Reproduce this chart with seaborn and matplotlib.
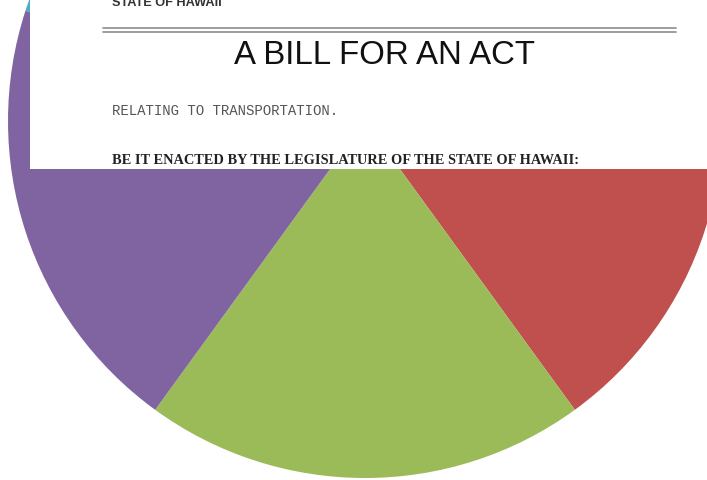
import matplotlib.pyplot as plt
import matplotlib.patches as mpatches
import seaborn as sns

sns.set_theme(style="white")

# pie slices, clockwise from 12 o'clock
slices = ["Blue", "Red", "Green", "Purple", "Aqua"]
shares = [20, 20, 20, 20, 20]
colors = ["#4F81BD", "#C0504D", "#9BBB59", "#8064A2", "#4BACC6"]

# text of the bill page laid over the chart
page_header = "STATE OF HAWAII"
page_title = "A BILL FOR AN ACT"
page_subject = "RELATING TO TRANSPORTATION."
page_clause = "BE IT ENACTED BY THE LEGISLATURE OF THE STATE OF HAWAII:"

W, H = 707, 481
fig = plt.figure(figsize=(W / 100, H / 100), dpi=100)
ax = fig.add_axes([0, 0, 1, 1])

ax.pie(shares, colors=colors, startangle=90, counterclock=False,
       center=(365, H - 122), radius=357, frame=True,
       wedgeprops=dict(linewidth=0))
ax.set_xlim(0, W)
ax.set_ylim(0, H)
ax.set_aspect("auto")
ax.axis("off")

# white page image
ax.add_patch(mpatches.Rectangle((30, H - 170), W - 30, 175,
                                facecolor="white", edgecolor="none", zorder=5))

# header sits at the top edge, partly cut as in the source
ax.text(112, H - 6, page_header, fontsize=9.2, fontweight="bold",
        family="Liberation Sans", color="#333333", va="baseline", zorder=6)
for yy in (29, 33):
    ax.plot([103, 676], [H - yy, H - yy], color="#8c8c8c", lw=1.2, zorder=6)
ax.text(385, H - 64, page_title, fontsize=23.8, family="Liberation Sans",
        color="#111111", ha="center", va="baseline", zorder=6)
ax.text(112, H - 115, page_subject, fontsize=10.05, family="Liberation Mono",
        color="#555555", va="baseline", zorder=6)
ax.text(112, H - 164, page_clause, fontsize=10.35, fontweight="bold",
        family="Liberation Serif", color="#222222", va="baseline", zorder=6)

plt.savefig("out.png", dpi=100)
